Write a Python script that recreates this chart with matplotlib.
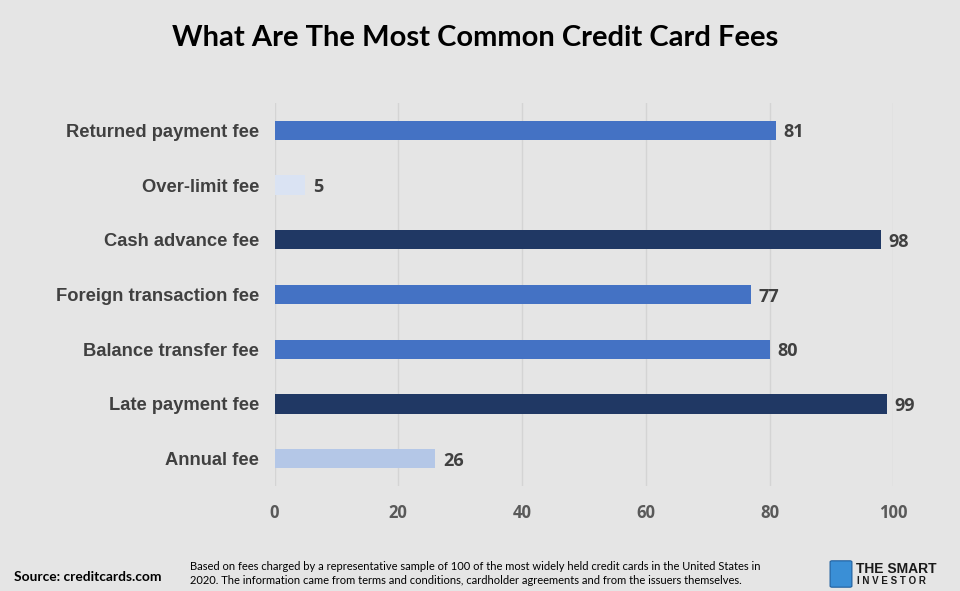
import matplotlib.pyplot as plt
import matplotlib.patches as mpatches

categories = ["Annual fee", "Late payment fee", "Balance transfer fee",
              "Foreign transaction fee", "Cash advance fee", "Over-limit fee",
              "Returned payment fee"]
values = [26, 99, 80, 77, 98, 5, 81]
colors = ["#b4c7e7", "#203864", "#4472c4", "#4472c4", "#203864", "#dae3f3", "#4472c4"]
xticks = [0, 20, 40, 60, 80, 100]

bg = "#e5e5e5"
fig = plt.figure(figsize=(9.6, 5.91), dpi=100, facecolor=bg)
ax = fig.add_axes([274.5/960, 1 - 486/591, (893.3 - 274.5)/960, (486 - 103)/591])
ax.set_facecolor(bg)

y = range(len(categories))
ax.barh(y, values, height=0.35, color=colors, zorder=3)
for yi, v in zip(y, values):
    ax.text(v + 1.2, yi, str(v), va="center_baseline", ha="left", fontsize=13,
            fontweight="bold", color="#404040", family="Open Sans")

ax.set_xlim(0, 100)
ax.set_ylim(-0.5, len(categories) - 0.5)
ax.set_xticks(xticks)
ax.set_xticklabels([str(t) for t in xticks], fontsize=12, fontweight="bold",
                   color="#595959", family="Open Sans")
ax.set_yticks(list(y))
ax.set_yticklabels(categories, fontsize=13.2, fontweight="bold",
                   color="#404040", family="Liberation Sans")
ax.tick_params(axis="x", length=0, pad=13)
ax.tick_params(axis="y", length=0, pad=11)
ax.xaxis.grid(True, color="#d4d4d4", linewidth=1, zorder=0)
for s in ax.spines.values():
    s.set_visible(False)

fig.text(0.495, 1 - 38/591, "What Are The Most Common Credit Card Fees",
         ha="center", va="center", fontsize=21, fontweight="bold",
         family="Lato", color="black")

fig.text(14/960, 1 - 577/591, "Source: creditcards.com", ha="left", va="center",
         fontsize=9.9, fontweight="bold", family="Lato", color="black")
fig.text(190/960, 1 - 566/591,
         "Based on fees charged by a representative sample of 100 of the most widely held credit cards in the United States in",
         ha="left", va="center", fontsize=8.05, family="Lato", color="black")
fig.text(190/960, 1 - 580/591,
         "2020. The information came from terms and conditions, cardholder agreements and from the issuers themselves.",
         ha="left", va="center", fontsize=8.05, family="Lato", color="black")

# logo
fig.patches.append(mpatches.FancyBboxPatch((832/960, 1 - 586/591), 18/960, 24/591,
                   boxstyle="round,pad=0.002", transform=fig.transFigure,
                   facecolor="#3a8fd6", edgecolor="#1f5f9e", linewidth=0.8))
fig.text(856/960, 1 - 569/591, "THE SMART", ha="left", va="center",
         fontsize=10, fontweight="bold", family="Liberation Sans", color="#1a1a1a")
fig.text(857/960, 1 - 581/591, "I N V E S T O R", ha="left", va="center",
         fontsize=7, fontweight="bold", family="Liberation Sans", color="#1a1a1a")

fig.savefig("out.png", dpi=100, facecolor=bg)
